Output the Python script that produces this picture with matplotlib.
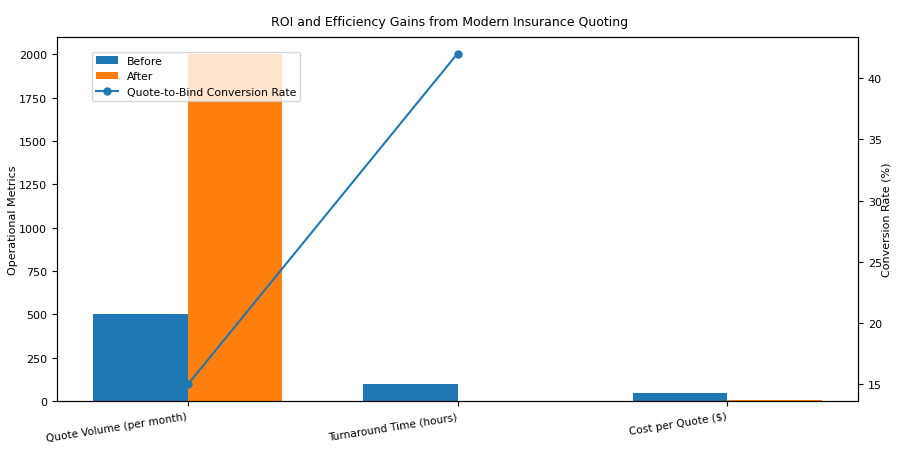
import numpy as np
import matplotlib
matplotlib.use('Agg')
import matplotlib.pyplot as plt

categories = ['Quote Volume (per month)', 'Turnaround Time (hours)', 'Cost per Quote ($)']
before = [500, 96, 45]
after = [2000, 1, 8]
conv_x = [0, 1]
conv_rate = [15, 42]


def main():
    x = np.arange(len(categories))
    w = 0.35

    fig = plt.figure(figsize=(9, 4.56), dpi=100)
    ax1 = fig.add_axes([57 / 900, 54 / 456, 801 / 900, 364 / 456])

    b1 = ax1.bar(x - w / 2, before, w, label='Before')
    b2 = ax1.bar(x + w / 2, after, w, label='After')
    ax1.set_ylabel('Operational Metrics', fontsize=8, labelpad=1)
    ax1.set_xticks(x)
    ax1.set_xticklabels(categories, rotation=9, ha='right', fontsize=7.6)
    ax1.tick_params(axis='y', labelsize=8)

    ax2 = ax1.twinx()
    l1, = ax2.plot(conv_x, conv_rate, marker='o', markersize=5,
                   label='Quote-to-Bind Conversion Rate')
    ax2.set_ylabel('Conversion Rate (%)', fontsize=8, labelpad=0)
    ax2.tick_params(axis='y', labelsize=8)

    ax2.legend([b1, b2, l1], ['Before', 'After', 'Quote-to-Bind Conversion Rate'],
               loc='upper left', bbox_to_anchor=(0.037, 0.975), fontsize=7.8)

    fig.suptitle('ROI and Efficiency Gains from Modern Insurance Quoting',
                 fontsize=9, y=0.965)
    fig.savefig('out.png', dpi=100)


if __name__ == '__main__':
    main()
